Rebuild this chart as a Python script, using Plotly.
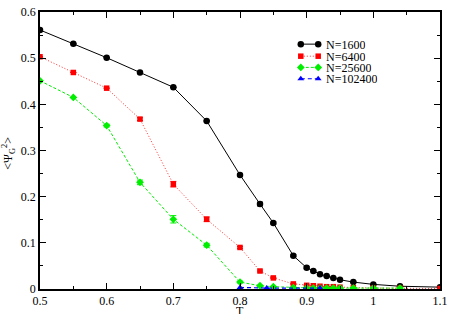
import plotly.graph_objects as go

T_1600 = [0.5, 0.55, 0.6, 0.65, 0.7, 0.75, 0.8, 0.83, 0.85, 0.88, 0.9, 0.91, 0.92, 0.93, 0.94, 0.95, 0.97, 1.0, 1.04, 1.1]
P_1600 = [0.561, 0.531, 0.501, 0.469, 0.437, 0.364, 0.247, 0.184, 0.143, 0.072, 0.046, 0.039, 0.032, 0.028, 0.024, 0.020, 0.015, 0.010, 0.006, 0.004]
E_1600 = [0, 0, 0, 0, 0, 0, 0.002, 0.004, 0.002, 0.002, 0.002, 0, 0, 0, 0, 0, 0, 0, 0, 0]

T_6400 = [0.5, 0.55, 0.6, 0.65, 0.7, 0.75, 0.8, 0.83, 0.85, 0.88, 0.9, 0.91, 0.92, 0.93, 0.94, 0.95, 0.97, 1.0, 1.04, 1.1]
P_6400 = [0.503, 0.469, 0.435, 0.368, 0.227, 0.151, 0.090, 0.039, 0.024, 0.011, 0.008, 0.007, 0.006, 0.005, 0.005, 0.004, 0.003, 0.002, 0.002, 0.001]
E_6400 = [0, 0, 0, 0.003, 0.006, 0.005, 0.002, 0.002, 0.001, 0.001, 0.001, 0, 0, 0, 0, 0, 0, 0, 0, 0]

T_25600 = [0.5, 0.55, 0.6, 0.65, 0.7, 0.75, 0.8, 0.83, 0.85, 0.88, 0.9, 0.91, 0.92, 0.93, 0.94, 0.95, 0.97, 1.0, 1.04]
P_25600 = [0.451, 0.415, 0.354, 0.231, 0.151, 0.095, 0.015, 0.007, 0.005, 0.003, 0.002, 0.002, 0.002, 0.002, 0.002, 0.002, 0.002, 0.002, 0.002]
E_25600 = [0, 0, 0.003, 0.005, 0.008, 0.004, 0.002, 0.001, 0, 0, 0, 0, 0, 0, 0, 0, 0, 0, 0]

T_102400 = [0.8, 0.84, 0.92]
P_102400 = [0.0034, 0.002, 0.002]

SERIES_NAMES = ["N=1600", "N=6400", "N=25600", "N=102400"]

X_TICKS = [0.5, 0.6, 0.7, 0.8, 0.9, 1.0, 1.1]
X_TICK_TEXT = ["0.5", "0.6", "0.7", "0.8", "0.9", "1", "1.1"]
Y_TICKS = [0, 0.1, 0.2, 0.3, 0.4, 0.5, 0.6]
Y_TICK_TEXT = ["0", "0.1", "0.2", "0.3", "0.4", "0.5", "0.6"]

FONT = "Liberation Serif, Times New Roman, serif"

styles = [
    dict(line=dict(color="black", width=1, dash="solid"),
         marker=dict(symbol="circle", size=6.5, color="black")),
    dict(line=dict(color="#ff3030", width=1, dash="1px,2px"),
         marker=dict(symbol="square", size=5.5, color="#ff0000")),
    dict(line=dict(color="#00ee00", width=1, dash="3px,2px"),
         marker=dict(symbol="diamond", size=6, color="#00ee00")),
    dict(line=dict(color="#0000ff", width=1.2, dash="4px,3px"),
         marker=dict(symbol="triangle-up", size=6, color="#0000ff")),
]
data = [(T_1600, P_1600, E_1600), (T_6400, P_6400, E_6400),
        (T_25600, P_25600, E_25600), (T_102400, P_102400, None)]

fig = go.Figure()
for (xs, ys, es), st, name in zip(data, styles, SERIES_NAMES):
    kw = {}
    if es is not None:
        kw["error_y"] = dict(type="data", array=es, color=st["marker"]["color"], thickness=1, width=3)
    fig.add_trace(go.Scatter(x=xs, y=ys, name=name, mode="lines+markers",
                             line=st["line"], marker=st["marker"], showlegend=False, **kw))

# manual legend (sample line + markers on an invisible overlay axis)
LEG_X0, LEG_X1, LEG_TX = 0.652, 0.6955, 0.713
LEG_Y = [0.884, 0.8405, 0.800, 0.759]
for st, name, ly in zip(styles, SERIES_NAMES, LEG_Y):
    fig.add_trace(go.Scatter(x=[LEG_X0, LEG_X1], y=[ly, ly], mode="lines+markers",
                             line=st["line"], marker=st["marker"], showlegend=False,
                             xaxis="x2", yaxis="y2", hoverinfo="skip"))
    fig.add_annotation(x=LEG_TX, y=ly, xref="x2", yref="y2", text=name, showarrow=False,
                       xanchor="left", yanchor="middle", height=11, borderpad=0,
                       font=dict(family=FONT, size=12, color="black"))

axis_common = dict(showline=True, linecolor="black", linewidth=1.5, mirror="ticks",
                   ticks="inside", ticklen=6, tickwidth=1, tickcolor="black",
                   showgrid=False, zeroline=False,
                   tickfont=dict(family=FONT, size=12, color="black"))

fig.update_layout(xaxis=dict(range=[0.5, 1.1], tickvals=X_TICKS, ticktext=X_TICK_TEXT,
                             minor=dict(tick0=0.5, dtick=0.05, ticks="inside", ticklen=3, tickcolor="black", showgrid=False),
                             **axis_common),
                  yaxis=dict(range=[0, 0.6], tickvals=Y_TICKS, ticktext=Y_TICK_TEXT,
                             minor=dict(tick0=0, dtick=0.05, ticks="inside", ticklen=3, tickcolor="black", showgrid=False),
                             **axis_common),
                  xaxis2=dict(overlaying="x", range=[0, 1], visible=False, anchor="y2"),
                  yaxis2=dict(overlaying="y", range=[0, 1], visible=False, anchor="x2"))

fig.add_annotation(x=0.5, y=-0.078, xref="paper", yref="paper", text="T", showarrow=False,
                   xanchor="center", yanchor="middle", borderpad=0,
                   font=dict(family=FONT, size=12, color="black"))
fig.add_annotation(x=-0.079, y=0.49, xref="paper", yref="paper",
                   text="&lt;Ψ<sub>G</sub><sup>2</sup>&gt;", showarrow=False, textangle=-90,
                   xanchor="center", yanchor="middle", font=dict(family=FONT, size=12, color="black"))

fig.update_layout(
    width=453, height=314,
    margin=dict(l=40, r=9, t=5, b=25),
    paper_bgcolor="white", plot_bgcolor="white",
    font=dict(family=FONT, size=12, color="black"),
    showlegend=False,
)

fig.write_html("out.html", config={"displayModeBar": False},
               post_script="document.body.style.margin='0';document.body.style.overflow='hidden';")
